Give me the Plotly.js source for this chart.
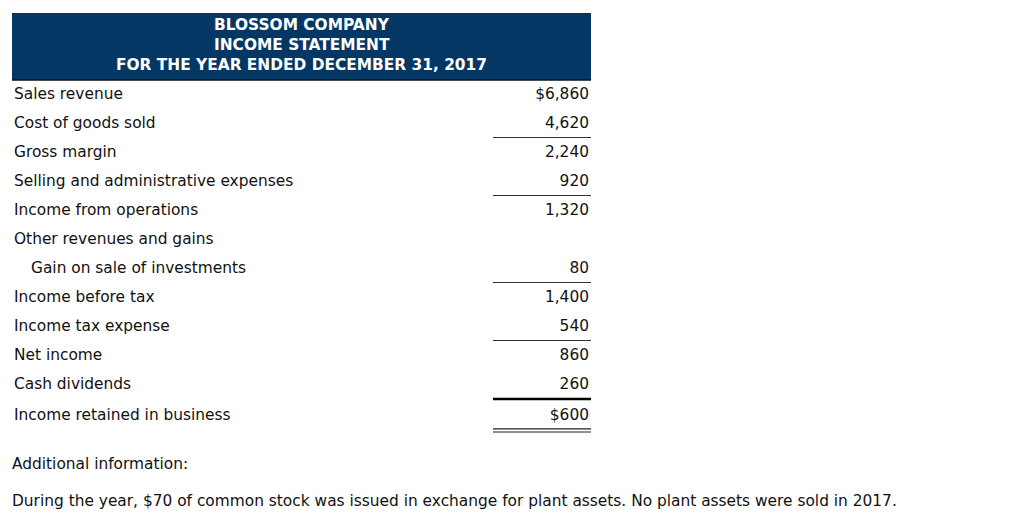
<!DOCTYPE html>
<html>
<head>
<meta charset="utf-8">
<script src="https://cdn.plot.ly/plotly-3.0.1.min.js"></script>
<style>html,body{margin:0;padding:0;background:#fff;}#chart{width:1024px;height:517px;}</style>
</head>
<body>
<div id="chart"></div>
<script>
// ---- data ----
var headerLines = ["BLOSSOM COMPANY", "INCOME STATEMENT", "FOR THE YEAR ENDED DECEMBER 31, 2017"];
var labels = ["Sales revenue", "Cost of goods sold", "Gross margin", "Selling and administrative expenses",
  "Income from operations", "Other revenues and gains", "Gain on sale of investments", "Income before tax",
  "Income tax expense", "Net income", "Cash dividends", "Income retained in business"];
var indent = [0, 0, 0, 0, 0, 0, 1, 0, 0, 0, 0, 0];
var values = [6860, 4620, 2240, 920, 1320, null, 80, 1400, 540, 860, 260, 600];
var dollarRows = [0, 11];
var singleRules = [1, 3, 6, 8];   // thin rule below these rows
var thickRules = [10];             // heavy rule below these rows
var doubleRules = [11];            // double rule below these rows
var notes = ["Additional information:",
  "During the year, $70 of common stock was issued in exchange for plant assets. No plant assets were sold in 2017."];

// ---- layout helpers ----
var W = 1024, H = 517;
var rowTop = 94, rowH = 29;           // pixel centre of first row, row pitch
var textNudge = 0.05;                 // small baseline correction for the text rows
function pxRow(p) { return (p - rowTop) / rowH; }
var rows = labels.map(function (_, i) { return (i === labels.length - 1 ? i + 0.06 : i) + textNudge; });
var labelX = indent.map(function (d) { return 14 + 17 * d; });
var amountText = values.map(function (v, i) {
  if (v === null) return "";
  var s = v.toLocaleString("en-US");
  return dollarRows.indexOf(i) >= 0 ? "$" + s : s;
});
var amtRows = [], amtText = [];
values.forEach(function (v, i) { if (v !== null) { amtRows.push(rows[i]); amtText.push(amountText[i]); } });

var font = "Verdana, 'DejaVu Sans', sans-serif";
var fs = 15.4;
var txtColor = "#111111";

var traces = [
  {
    type: "scatter", mode: "text", x: labelX, y: rows, text: labels,
    textposition: "middle right", cliponaxis: false, hoverinfo: "skip",
    textfont: { family: font, size: fs, color: txtColor }, showlegend: false
  },
  {
    type: "scatter", mode: "text", x: amtRows.map(function () { return 589; }), y: amtRows, text: amtText,
    textposition: "middle left", cliponaxis: false, hoverinfo: "skip",
    textfont: { family: font, size: fs, color: txtColor }, showlegend: false
  }
];

var ruleX0 = 493, ruleX1 = 591;
var shapes = [
  { type: "rect", xref: "x", yref: "y", x0: 12, x1: 591, y0: pxRow(13), y1: pxRow(80),
    fillcolor: "#043764", line: { width: 0 }, layer: "below" },
  { type: "line", xref: "x", yref: "y", x0: 12, x1: 591, y0: pxRow(80), y1: pxRow(80),
    line: { color: "#111", width: 1.5 } }
];
singleRules.forEach(function (r) {
  shapes.push({ type: "line", xref: "x", yref: "y", x0: ruleX0, x1: ruleX1, y0: r + 0.5, y1: r + 0.5,
    line: { color: "#333", width: 1.2 } });
});
thickRules.forEach(function (r) {
  shapes.push({ type: "line", xref: "x", yref: "y", x0: ruleX0, x1: ruleX1, y0: r + 0.52, y1: r + 0.52,
    line: { color: "#000", width: 2.5 } });
});
doubleRules.forEach(function (r) {
  [0.55, 0.655].forEach(function (o) {
    shapes.push({ type: "line", xref: "x", yref: "y", x0: ruleX0, x1: ruleX1, y0: r + o, y1: r + o,
      line: { color: "#222", width: 1.2 } });
  });
});

var annotations = headerLines.map(function (t, i) {
  return { xref: "x", yref: "y", x: 301.5, y: pxRow(25 + 20 * i), text: "<b>" + t + "</b>",
    showarrow: false, xanchor: "center", yanchor: "middle",
    font: { family: font, size: fs, color: "#ffffff" } };
});
notes.forEach(function (t, i) {
  annotations.push({ xref: "x", yref: "y", x: 10, y: pxRow(i === 0 ? 464 : 501), text: t,
    showarrow: false, xanchor: "left", yanchor: "middle",
    font: { family: font, size: fs, color: txtColor } });
});

var layout = {
  width: W, height: H,
  margin: { l: 0, r: 0, t: 0, b: 0, pad: 0 },
  paper_bgcolor: "#ffffff", plot_bgcolor: "#ffffff",
  xaxis: { range: [0, W], visible: false, fixedrange: true },
  yaxis: { range: [pxRow(H), pxRow(0)], visible: false, fixedrange: true },
  shapes: shapes, annotations: annotations, showlegend: false
};

Plotly.newPlot("chart", traces, layout, { displayModeBar: false, staticPlot: true });
</script>
</body>
</html>
